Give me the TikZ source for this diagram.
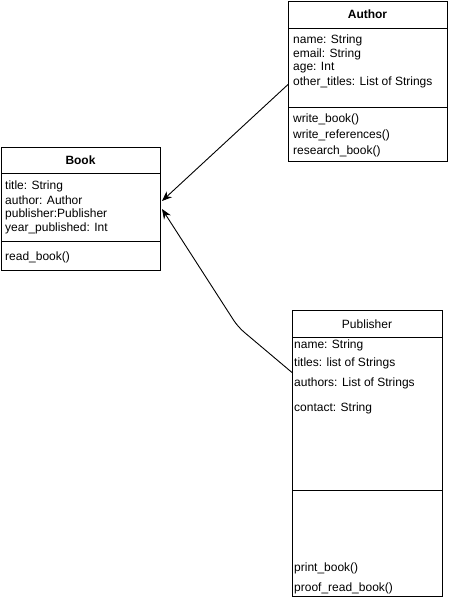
\documentclass[tikz,border=0pt]{standalone}
\usepackage{fontspec}
\setmainfont{Liberation Sans}
\usetikzlibrary{arrows.meta}
\begin{document}
\begin{tikzpicture}[x=1pt,y=-1pt,
  box/.style={draw,line width=1pt,rectangle,anchor=north west,inner sep=0pt},
  txt/.style={anchor=west,inner sep=0pt,font=\fontsize{12}{14}\selectfont},
  ttl/.style={anchor=center,inner sep=0pt,font=\fontsize{12}{14}\selectfont},
  arr/.style={draw,line width=0.9pt,-{Stealth[length=10pt,width=8pt]}}]
\useasboundingbox (0,0) rectangle (448,597);
% Author
\node[box,minimum width=159pt,minimum height=160pt] (author) at (288,1) {};
\draw[line width=1pt] (288,28) -- (447,28);
\draw[line width=1pt] (288,107) -- (447,107);
\node[ttl,font=\fontsize{12}{14}\selectfont\bfseries] (at) at (367.5,14) {Author};
\node[txt] (a1) at (293,40) {name: String};
\node[txt] (a2) at (293,54) {email: String};
\node[txt] (a3) at (293,68) {age: Int};
\node[txt] (a4) at (293,82) {other\_titles: List of Strings};
\node[txt] (a5) at (293,119) {write\_book()};
\node[txt] (a6) at (293,135) {write\_references()};
\node[txt] (a7) at (293,151) {research\_book()};
% Book
\node[box,minimum width=159pt,minimum height=123pt] (book) at (1,147) {};
\draw[line width=1pt] (1,173) -- (160,173);
\draw[line width=1pt] (1,241) -- (160,241);
\node[ttl,font=\fontsize{12}{14}\selectfont\bfseries] (bt) at (80.5,160) {Book};
\node[txt] (b1) at (5,186) {title: String};
\node[txt] (b2) at (5,200) {author: Author};
\node[txt] (b3) at (5,214) {publisher:Publisher};
\node[txt] (b4) at (5,228) {year\_published: Int};
\node[txt] (b5) at (5,257) {read\_book()};
% Publisher
\node[box,minimum width=150pt,minimum height=286pt] (pub) at (292,310) {};
\draw[line width=1pt] (292,337) -- (442,337);
\draw[line width=1pt] (292,490) -- (442,490);
\node[ttl] (pt) at (367,324) {Publisher};
\node[txt] (p1) at (294,345) {name: String};
\node[txt] (p2) at (294,363) {titles: list of Strings};
\node[txt] (p3) at (294,383) {authors: List of Strings};
\node[txt] (p4) at (294,408) {contact: String};
\node[txt] (p5) at (294,568) {print\_book()};
\node[txt] (p6) at (294,588) {proof\_read\_book()};
% connectors
\coordinate (aS) at ([yshift=-3pt]author.west);
\coordinate (bA) at ([yshift=8pt]book.east);
\coordinate (bP) at ([yshift=0pt]book.east);
\coordinate (pS) at ([yshift=81pt]pub.west);
\coordinate (bend) at (238,327);
\draw[arr] (aS) -- ([xshift=1pt]bA);
\draw[arr,rounded corners=8pt] (pS) -- (bend) -- ([xshift=1pt]bP);
\end{tikzpicture}
\end{document}
